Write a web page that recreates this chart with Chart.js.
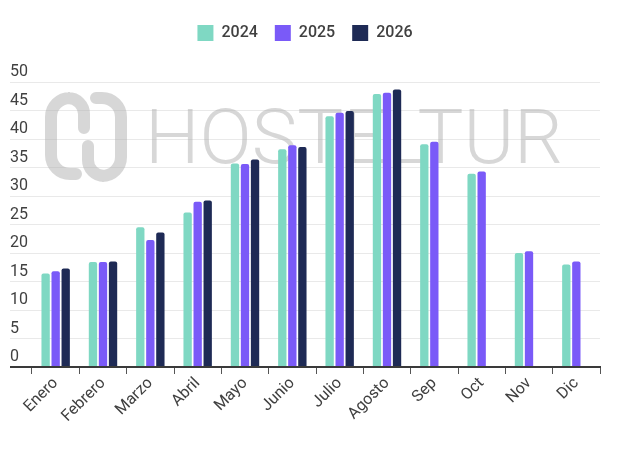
<!DOCTYPE html>
<html>
<head>
<meta charset="utf-8">
<script src="https://cdn.jsdelivr.net/npm/chart.js@4.4.1/dist/chart.umd.min.js"></script>
<style>
  html, body { margin: 0; padding: 0; background: #ffffff; }
  #wrap { width: 619px; height: 450px; position: relative; }
</style>
</head>
<body>
<div id="wrap"><canvas id="c"></canvas></div>
<script>
const categories = ['Enero','Febrero','Marzo','Abril','Mayo','Junio','Julio','Agosto','Sep','Oct','Nov','Dic'];
const seriesNames = ['2024','2025','2026'];
const values2024 = [16.4, 18.4, 24.5, 27.1, 35.7, 38.2, 44.0, 47.9, 39.1, 33.9, 20.0, 18.0];
const values2025 = [16.8, 18.4, 22.3, 29.0, 35.6, 38.9, 44.6, 48.1, 39.5, 34.3, 20.3, 18.5];
const values2026 = [17.3, 18.5, 23.6, 29.2, 36.4, 38.6, 44.9, 48.7, null, null, null, null];
const yTicks = [0, 5, 10, 15, 20, 25, 30, 35, 40, 45, 50];
const colors = ['#7fd8c3', '#7a5af8', '#1e2a55'];
const watermarkText = 'HOSTELTUR';

const textColor = '#404040';
const gridColor = '#e9e9e9';
const axisColor = '#3a3a3a';

const legendGap = {
  id: 'legendGap',
  beforeLayout(chart) {
    const lg = chart.legend;
    if (lg && !lg._gapPatched) {
      const f = lg.fit;
      lg.fit = function () { f.call(this); this.height += 31; };
      lg._gapPatched = true;
    }
  }
};

const watermark = {
  id: 'watermark',
  beforeDatasetsDraw(chart) {
    const ctx = chart.ctx;
    ctx.save();
    const col = 'rgba(175,175,175,0.5)';
    ctx.strokeStyle = col;
    ctx.lineWidth = 12;
    ctx.lineCap = 'round';
    ctx.beginPath();
    ctx.moveTo(84, 128);
    ctx.lineTo(84, 118);
    ctx.arcTo(84, 98, 70, 98, 16);
    ctx.arcTo(51, 98, 51, 120, 19);
    ctx.lineTo(51, 152);
    ctx.arcTo(51, 174, 70, 174, 19);
    ctx.lineTo(76, 174);
    ctx.stroke();
    ctx.beginPath();
    ctx.moveTo(88, 146);
    ctx.lineTo(88, 156);
    ctx.arcTo(88, 176, 102, 176, 16);
    ctx.arcTo(121, 176, 121, 154, 19);
    ctx.lineTo(121, 120);
    ctx.arcTo(121, 98, 102, 98, 19);
    ctx.lineTo(96, 98);
    ctx.stroke();
    ctx.fillStyle = col;
    ctx.font = '300 76px Roboto, "DejaVu Sans", sans-serif';
    ctx.textBaseline = 'alphabetic';
    const w = ctx.measureText(watermarkText).width;
    const target = 563 - 145;
    ctx.translate(145, 163);
    ctx.scale(target / w, 1);
    ctx.fillText(watermarkText, 0, 0);
    ctx.restore();
  }
};

const datasets = [values2024, values2025, values2026].map((vals, i) => ({
  label: seriesNames[i],
  data: vals,
  backgroundColor: colors[i],
  borderWidth: 0,
  borderRadius: 2,
  categoryPercentage: 0.636,
  barPercentage: 0.83
}));

new Chart(document.getElementById('c'), {
  type: 'bar',
  data: { labels: categories, datasets },
  plugins: [legendGap, watermark],
  options: {
    responsive: true,
    maintainAspectRatio: false,
    animation: false,
    layout: { padding: { left: 10, right: 19, top: 8, bottom: 0 } },
    plugins: {
      legend: {
        position: 'top',
        align: 'center',
        labels: {
          boxWidth: 16,
          boxHeight: 16,
          padding: 17,
          color: textColor,
          font: { family: 'Roboto, "Liberation Sans", sans-serif', size: 16, weight: '500' }
        }
      },
      tooltip: { enabled: false }
    },
    scales: {
      x: {
        grid: {
          display: true,
          drawOnChartArea: false,
          drawTicks: true,
          tickLength: 7,
          color: axisColor,
          tickColor: '#555'
        },
        border: { display: true, color: axisColor, width: 2 },
        ticks: {
          color: textColor,
          font: { family: 'Roboto, "Liberation Sans", sans-serif', size: 16 },
          maxRotation: 45,
          minRotation: 45,
          autoSkip: false,
          padding: 0
        },
        afterFit(scale) { scale.height = 83; }
      },
      y: {
        min: 0,
        max: 50,
        afterBuildTicks(scale) { scale.ticks = yTicks.map(v => ({ value: v })); },
        grid: {
          color: ctx => ctx.tick && ctx.tick.value === 0 ? axisColor : gridColor,
          tickColor: ctx => ctx.tick && ctx.tick.value === 0 ? axisColor : gridColor,
          lineWidth: ctx => ctx.tick && ctx.tick.value === 0 ? 2 : 1,
          drawTicks: true,
          tickLength: 22
        },
        border: { display: false },
        ticks: {
          color: textColor,
          font: { family: 'Roboto, "Liberation Sans", sans-serif', size: 16 },
          crossAlign: 'far',
          padding: 0,
          labelOffset: -10
        },
        afterFit(scale) { scale.width = 22; }
      }
    }
  }
});
</script>
</body>
</html>
